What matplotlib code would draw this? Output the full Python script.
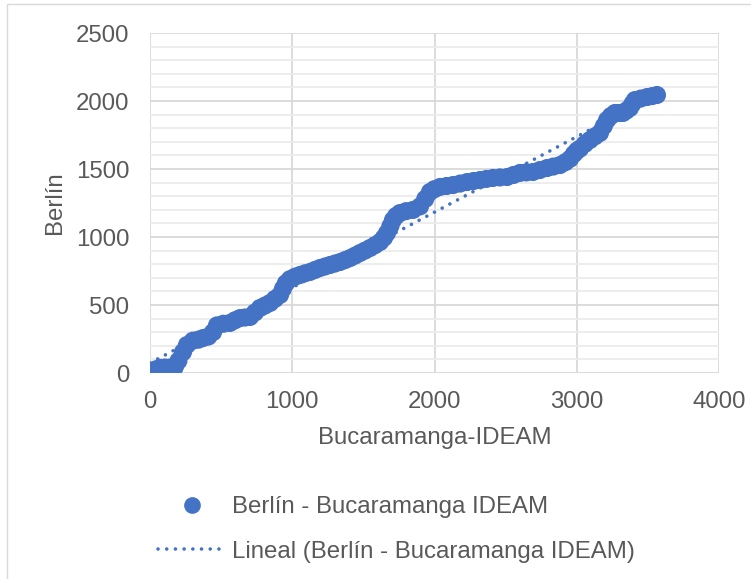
import numpy as np
import matplotlib
matplotlib.use("Agg")
import matplotlib.pyplot as plt
from matplotlib.lines import Line2D
from matplotlib.patches import Rectangle

plt.rcParams["font.family"] = ["Liberation Sans", "DejaVu Sans"]

# sorted station pairs (Bucaramanga-IDEAM vs Berlin)
bucaramanga = [0, 35, 70, 105, 140, 175, 200, 232, 260, 302, 340, 373, 410, 443, 471,
               515, 562, 598, 633, 668, 703, 738, 773, 808, 844, 879, 914, 935, 955,
               984, 1020, 1054, 1090, 1125, 1160, 1195, 1230, 1265, 1300, 1336, 1371,
               1406, 1441, 1476, 1511, 1547, 1582, 1617, 1645, 1666, 1690, 1708, 1730,
               1757, 1800, 1849, 1898, 1935, 1968, 2000, 2039, 2085, 2130, 2180, 2229,
               2275, 2320, 2365, 2411, 2460, 2510, 2555, 2601, 2645, 2692, 2740, 2791,
               2835, 2882, 2920, 2953, 2980, 3002, 3023, 3058, 3093, 3128, 3163, 3190,
               3213, 3240, 3269, 3297, 3325, 3350, 3374, 3392, 3409, 3450, 3494, 3530,
               3564]
berlin = [10, 25, 38, 40, 40, 45, 90, 154, 206, 238, 245, 257, 268, 300, 350,
          362, 368, 388, 404, 408, 412, 445, 478, 496, 515, 545, 574, 620, 660,
          690, 708, 721, 733, 743, 758, 772, 783, 794, 805, 816, 830,
          845, 863, 882, 900, 919, 940, 963, 995, 1029, 1080, 1125, 1155,
          1176, 1190, 1199, 1225, 1280, 1331, 1352, 1368, 1375, 1382, 1393, 1404,
          1412, 1419, 1427, 1434, 1438, 1441, 1456, 1471, 1475, 1478, 1492, 1507,
          1518, 1529, 1550, 1575, 1610, 1635, 1650, 1685, 1713, 1740, 1765, 1815,
          1860, 1890, 1912, 1912, 1912, 1930, 1949, 1980, 2007, 2018, 2029, 2036,
          2044]

series_label = "Berlín - Bucaramanga IDEAM"
trend_label = "Lineal (Berlín - Bucaramanga IDEAM)"

blue = "#4472C4"
text_gray = "#595959"
fs = 17.3

fig = plt.figure(figsize=(7.51, 5.79), dpi=100)
fig.patches.append(Rectangle((7 / 751, -0.1), 1.2, 1 - 4 / 579 + 0.1,
                             transform=fig.transFigure, fill=False,
                             edgecolor="#d9d9d9", lw=1.0))

ax = fig.add_axes([150 / 751, 1 - 373 / 579, 569 / 751, 340 / 579])

x = np.array(bucaramanga, dtype=float)
y = np.array(berlin, dtype=float)

ax.scatter(x, y, s=170, color=blue, edgecolors="none", zorder=3)

# linear trendline, as Excel would add it
slope, intercept = np.polyfit(x, y, 1)
xt = np.array([x.min(), x.max()])
trend = Line2D(xt, slope * xt + intercept, color=blue, lw=2.6,
               dashes=[0.01, 2.4], dash_capstyle="round", zorder=4)
ax.add_line(trend)

ax.set_xlim(0, 4000)
ax.set_ylim(0, 2500)
ax.set_xticks([0, 1000, 2000, 3000, 4000])
ax.set_yticks([0, 500, 1000, 1500, 2000, 2500])
ax.set_yticks(np.arange(0, 2501, 100), minor=True)

ax.grid(True, which="major", color="#d9d9d9", lw=1.3, zorder=0)
ax.grid(True, which="minor", axis="y", color="#ececec", lw=1.3, zorder=0)
ax.set_axisbelow(True)
for s in ax.spines.values():
    s.set_visible(False)

ax.tick_params(axis="both", which="both", length=0, labelsize=fs, labelcolor=text_gray)
ax.tick_params(axis="y", pad=15)
ax.tick_params(axis="x", pad=13)

ax.set_xlabel("Bucaramanga-IDEAM", fontsize=fs, color=text_gray, labelpad=10)
ax.set_ylabel("Berlín", fontsize=fs, color=text_gray, labelpad=7)

handles = [
    Line2D([], [], marker="o", linestyle="none", markersize=11, color=blue),
    Line2D([], [], color=blue, lw=2.6, dashes=[0.01, 2.4], dash_capstyle="round"),
]
fig.legend(handles, [series_label, trend_label], loc="upper left",
           bbox_to_anchor=(146 / 751, 1 - 484 / 579), frameon=False,
           fontsize=fs, labelcolor=text_gray, handlelength=2.85,
           handletextpad=0.25, labelspacing=0.95, borderpad=0)

fig.savefig("out.png", dpi=100)
